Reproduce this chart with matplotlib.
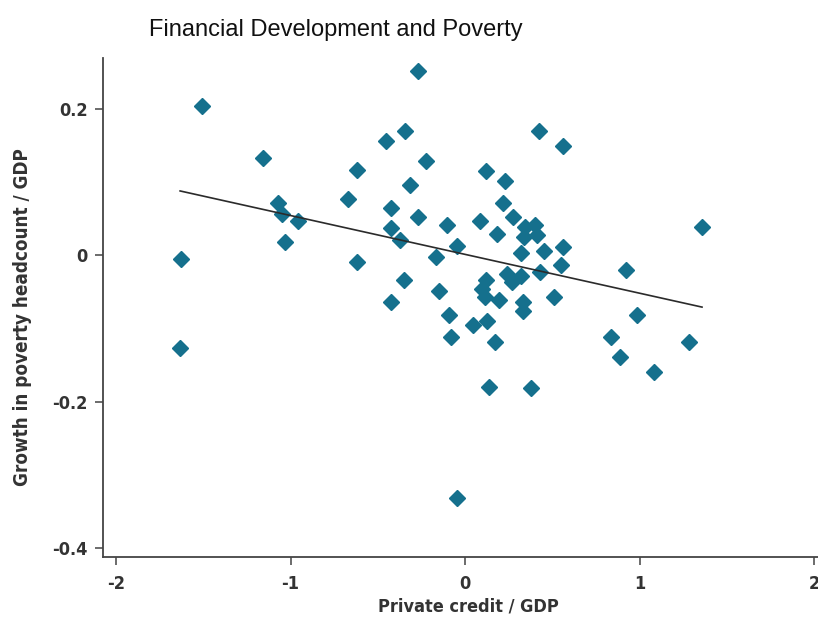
import matplotlib
matplotlib.use('Agg')
import matplotlib.pyplot as plt
import numpy as np

# private credit / GDP (x) vs growth in poverty headcount / GDP (y)
credit = [-1.507, -1.628, -1.633, -1.158, -1.072, -1.049, -0.957, -1.032, -0.619, -0.670,
          -0.619, -0.269, -0.453, -0.344, -0.223, -0.315, 0.120, -0.424, -0.269, 0.086,
          0.424, 0.562, 0.229, 0.218, 0.275, 0.344, 0.401, 0.413, 0.338, -0.103,
          -0.424, -0.372, -0.046, -0.166, 0.183, 0.562, 0.321, 0.453, 0.550, 0.430,
          0.241, 0.321, 0.269, 0.120, 0.097, 0.115, -0.350, -0.149, 0.195, 0.510,
          0.332, 0.332, -0.424, -0.092, 0.046, 0.126, -0.080, 0.172, 0.138, 0.378,
          0.986, 0.837, 0.888, 1.083, 1.284, 0.923, 1.358, -0.046]
poverty = [0.203, -0.005, -0.127, 0.132, 0.071, 0.056, 0.046, 0.018, 0.116, 0.076,
           -0.010, 0.251, 0.156, 0.169, 0.128, 0.096, 0.115, 0.064, 0.052, 0.046,
           0.169, 0.149, 0.101, 0.071, 0.052, 0.038, 0.041, 0.027, 0.025, 0.041,
           0.037, 0.020, 0.012, -0.003, 0.029, 0.011, 0.003, 0.005, -0.014, -0.023,
           -0.026, -0.029, -0.037, -0.034, -0.046, -0.057, -0.034, -0.049, -0.061, -0.057,
           -0.064, -0.076, -0.064, -0.082, -0.096, -0.090, -0.112, -0.119, -0.180, -0.182,
           -0.082, -0.112, -0.139, -0.160, -0.119, -0.020, 0.038, -0.332]

# fitted line as drawn in the chart
fit_intercept = 0.001
fit_slope = -0.053

x_ticks = [-2, -1, 0, 1, 2]
x_ticklabels = ['-2', '-1', '0', '1', '2']
y_ticks = [-0.4, -0.2, 0, 0.2]
y_ticklabels = ['-0.4', '-0.2', '0', '0.2']

lab_font = ['DejaVu Sans']

fig = plt.figure(figsize=(8.18, 6.21), dpi=100)
ax = fig.add_axes([0.1259, 0.1031, 0.8906, 0.8035])

ax.plot(credit, poverty, linestyle='none', marker='D', markersize=8,
        color='#15708d', markeredgecolor='#15708d', zorder=3)

fx = np.array([min(credit), max(credit)])
ax.plot(fx, fit_intercept + fit_slope * fx, color='#2b2b2b', linewidth=1.2, zorder=4)

ax.set_xlim(-2.075, 2.1)
ax.set_ylim(-0.412, 0.269)
ax.set_xticks(x_ticks)
ax.set_xticklabels(x_ticklabels)
ax.set_yticks(y_ticks)
ax.set_yticklabels(y_ticklabels)

for side in ['top', 'right']:
    ax.spines[side].set_visible(False)
for side in ['left', 'bottom']:
    ax.spines[side].set_color('#444444')
    ax.spines[side].set_linewidth(1.3)

ax.tick_params(axis='both', direction='out', length=6, width=1.1, color='#444444',
               labelcolor='#333333')
ax.tick_params(axis='x', pad=7)
ax.tick_params(axis='y', pad=5)
for lab in ax.get_xticklabels() + ax.get_yticklabels():
    lab.set_family(lab_font)
    lab.set_fontweight('bold')
    lab.set_fontstretch('condensed')
    lab.set_fontsize(13)

fig.text(0.572, 0.024, 'Private credit / GDP', ha='center', va='center',
         family=lab_font, fontweight='bold', fontstretch='condensed',
         fontsize=13, color='#333333')
fig.text(0.027, 0.49, 'Growth in poverty headcount / GDP', ha='center', va='center',
         rotation=90, family=lab_font, fontweight='bold', fontstretch='condensed',
         fontsize=13.5, color='#333333')
fig.text(0.41, 0.952, 'Financial Development and Poverty', ha='center', va='center',
         family=['Liberation Sans', 'DejaVu Sans'], fontsize=17, color='#111111')

fig.savefig('out.png', dpi=100)
